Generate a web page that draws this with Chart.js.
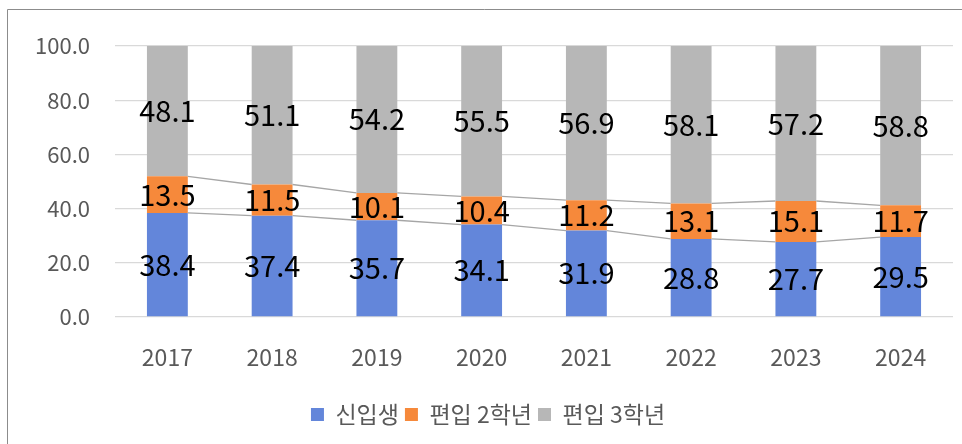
<!DOCTYPE html>
<html lang="ko">
<head>
<meta charset="utf-8">
<title>신입생 / 편입 비율</title>
<script src="https://cdn.jsdelivr.net/npm/chart.js@4/dist/chart.umd.min.js"></script>
<style>
  html, body { margin: 0; padding: 0; background: #ffffff; }
  #wrap { width: 962px; height: 444px; }
</style>
</head>
<body>
<div id="wrap"><canvas id="chartRatio" width="962" height="444"></canvas></div>
<script>
// ========== DONNÉES ==========
const years = ['2017', '2018', '2019', '2020', '2021', '2022', '2023', '2024'];
const seriesNames = ['신입생', '편입 2학년', '편입 3학년'];
const freshmen = [38.4, 37.4, 35.7, 34.1, 31.9, 28.8, 27.7, 29.5];
const transfer2 = [13.5, 11.5, 10.1, 10.4, 11.2, 13.1, 15.1, 11.7];
const transfer3 = [48.1, 51.1, 54.2, 55.5, 56.9, 58.1, 57.2, 58.8];
const yMin = 0;
const yMax = 100;
const yStep = 20;

const FONT = "'Noto Sans CJK KR', 'Noto Sans', sans-serif";
const colors = ['#6386DA', '#F6893B', '#B7B7B7'];

// ========== CADRE ==========
const framePlugin = {
    id: 'frame',
    beforeDraw(chart) {
        const ctx = chart.ctx;
        ctx.save();
        ctx.fillStyle = '#ffffff';
        ctx.fillRect(0, 0, chart.width, chart.height);
        ctx.strokeStyle = '#8c8c8c';
        ctx.lineWidth = 1;
        ctx.beginPath();
        ctx.moveTo(7.5, chart.height);
        ctx.lineTo(7.5, 9.5);
        ctx.lineTo(chart.width, 9.5);
        ctx.stroke();
        ctx.restore();
    }
};

// ========== LIGNES DE SÉRIE ==========
const seriesLinesPlugin = {
    id: 'seriesLines',
    afterDatasetsDraw(chart) {
        const ctx = chart.ctx;
        ctx.save();
        ctx.strokeStyle = '#A6A6A6';
        ctx.lineWidth = 1.3;
        for (let d = 0; d < chart.data.datasets.length - 1; d++) {
            const bars = chart.getDatasetMeta(d).data;
            ctx.beginPath();
            for (let i = 0; i < bars.length - 1; i++) {
                const a = bars[i], b = bars[i + 1];
                ctx.moveTo(a.x + a.width / 2, a.y);
                ctx.lineTo(b.x - b.width / 2, b.y);
            }
            ctx.stroke();
        }
        ctx.restore();
    }
};

// ========== ÉTIQUETTES ==========
const valueLabelsPlugin = {
    id: 'valueLabels',
    afterDatasetsDraw(chart) {
        const ctx = chart.ctx;
        ctx.save();
        ctx.font = '29px ' + FONT;
        ctx.fillStyle = '#000000';
        ctx.textAlign = 'center';
        ctx.textBaseline = 'middle';
        chart.data.datasets.forEach((ds, d) => {
            chart.getDatasetMeta(d).data.forEach((bar, i) => {
                const cy = (bar.y + bar.base) / 2;
                ctx.fillText(ds.data[i].toFixed(1), bar.x, cy);
            });
        });
        ctx.restore();
    }
};

new Chart(document.getElementById('chartRatio'), {
    type: 'bar',
    data: {
        labels: years,
        datasets: [
            { label: seriesNames[0], data: freshmen, backgroundColor: colors[0] },
            { label: seriesNames[1], data: transfer2, backgroundColor: colors[1] },
            { label: seriesNames[2], data: transfer3, backgroundColor: colors[2] }
        ]
    },
    options: {
        responsive: false,
        animation: false,
        devicePixelRatio: 1,
        datasets: {
            bar: { barPercentage: 0.39, categoryPercentage: 1, borderWidth: 0 }
        },
        layout: { padding: { left: 23, right: 9, top: 46, bottom: 8 } },
        plugins: {
            tooltip: { enabled: false },
            legend: {
                position: 'bottom',
                labels: {
                    boxWidth: 13,
                    boxHeight: 13,
                    padding: 6,
                    color: '#595959',
                    font: { family: FONT, size: 23 }
                }
            }
        },
        scales: {
            x: {
                stacked: true,
                grid: { display: false },
                border: { display: false },
                ticks: {
                    color: '#595959',
                    padding: 18,
                    font: { family: FONT, size: 23 }
                },
                afterFit: (s) => { s.height = 80; }
            },
            y: {
                stacked: true,
                min: yMin,
                max: yMax,
                grid: { color: '#D9D9D9', lineWidth: 1.3, drawTicks: false },
                border: { display: false },
                ticks: {
                    stepSize: yStep,
                    color: '#595959',
                    padding: 25,
                    font: { family: FONT, size: 22 },
                    callback: (v) => Number(v).toFixed(1)
                },
                afterFit: (s) => { s.width = 92; }
            }
        }
    },
    plugins: [framePlugin, seriesLinesPlugin, valueLabelsPlugin]
});
</script>
</body>
</html>
